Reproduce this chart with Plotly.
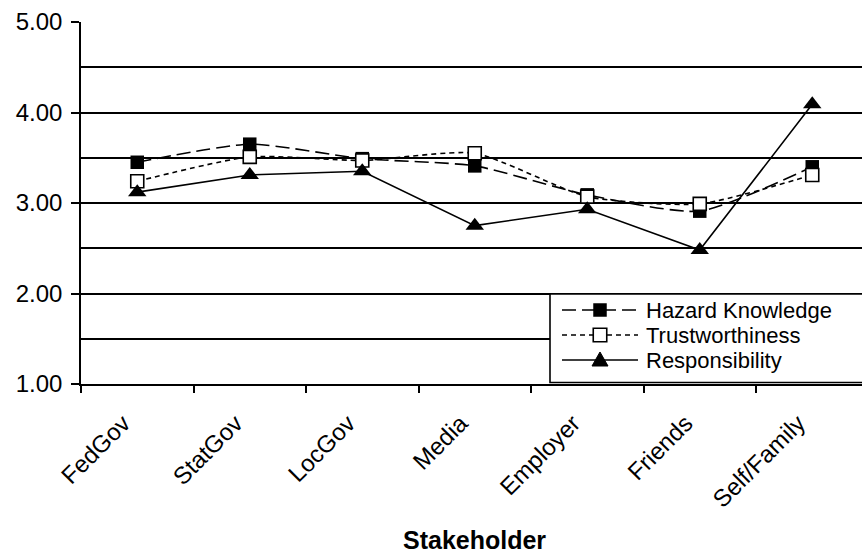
import plotly.graph_objects as go

# Stakeholder ratings (mean scores, 1-5 scale)
stakeholders = ["FedGov", "StatGov", "LocGov", "Media", "Employer", "Friends", "Self/Family"]
hazard_knowledge = [3.45, 3.65, 3.49, 3.41, 3.09, 2.91, 3.40]
trustworthiness = [3.24, 3.51, 3.47, 3.55, 3.07, 2.99, 3.31]
responsibility = [3.12, 3.31, 3.35, 2.75, 2.93, 2.48, 4.09]

y_tick_values = [1, 2, 3, 4, 5]
y_tick_labels = ["1.00", "2.00", "3.00", "4.00", "5.00"]

series_names = ["Hazard Knowledge", "Trustworthiness", "Responsibility"]

W, H = 862, 555
L, R, T, B = 81, 0, 22, 171
PW, PH = W - L - R, H - T - B
FONT = "Liberation Sans, Arial, sans-serif"
FS = 24


def px(x):
    return (x - L) / PW


def py(y):
    return (H - B - y) / PH


fig = go.Figure()

fig.add_trace(go.Scatter(
    x=stakeholders, y=hazard_knowledge, name=series_names[0], mode="lines+markers",
    line=dict(color="black", width=1.6, dash="14px,6px", shape="spline", smoothing=0.6),
    marker=dict(symbol="square", size=13.5, color="black"),
))
fig.add_trace(go.Scatter(
    x=stakeholders, y=trustworthiness, name=series_names[1], mode="lines+markers",
    line=dict(color="black", width=1.6, dash="5px,4px", shape="spline", smoothing=0.6),
    marker=dict(symbol="square", size=13, color="white", line=dict(color="black", width=1.6)),
))
fig.add_trace(go.Scatter(
    x=stakeholders, y=responsibility, name=series_names[2], mode="lines+markers",
    line=dict(color="black", width=1.6),
    marker=dict(symbol="triangle-up", size=16, color="black"),
))

# Legend box drawn as shapes + annotations
shapes = [dict(type="rect", xref="paper", yref="paper",
               x0=px(550), x1=px(875), y0=py(382.5), y1=py(294),
               fillcolor="white", line=dict(color="black", width=1.6), layer="above")]
annotations = []
row_y = [310, 335, 360]
legend_dashes = ["14px,6px", "5px,4px", "solid"]
for i, (name, ry) in enumerate(zip(series_names, row_y)):
    shapes.append(dict(type="line", xref="paper", yref="paper",
                       x0=px(562), x1=px(638), y0=py(ry), y1=py(ry),
                       line=dict(color="black", width=1.6, dash=legend_dashes[i]), layer="above"))
    cx = 600
    if i < 2:
        h = 6.75
        shapes.append(dict(type="rect", xref="paper", yref="paper",
                           x0=px(cx - h), x1=px(cx + h), y0=py(ry + h), y1=py(ry - h),
                           fillcolor="black" if i == 0 else "white",
                           line=dict(color="black", width=1.6 if i == 1 else 0), layer="above"))
    else:
        path = "M{:.5f},{:.5f} L{:.5f},{:.5f} L{:.5f},{:.5f} Z".format(
            px(cx - 8), py(ry + 6), px(cx + 8), py(ry + 6), px(cx), py(ry - 8))
        shapes.append(dict(type="path", xref="paper", yref="paper", path=path,
                           fillcolor="black", line=dict(color="black", width=1), layer="above"))
    annotations.append(dict(xref="paper", yref="paper", x=px(644), y=py(ry),
                            xanchor="left", yanchor="middle", text=name, showarrow=False,
                            font=dict(family=FONT, size=22, color="black")))

annotations.append(dict(xref="paper", yref="paper", x=px(474.5), y=py(540),
                        xanchor="center", yanchor="middle", text="<b>Stakeholder</b>",
                        showarrow=False, font=dict(family=FONT, size=25, color="black")))

fig.update_layout(
    width=W, height=H,
    margin=dict(l=L, r=R, t=T, b=B),
    paper_bgcolor="white", plot_bgcolor="white",
    font=dict(family=FONT, size=FS, color="black"),
    showlegend=False,
    shapes=shapes,
    annotations=annotations,
    xaxis=dict(
        type="category", categoryorder="array", categoryarray=stakeholders,
        range=[-0.5, -0.5 + PW / 112.5],
        tickson="boundaries", ticks="outside", ticklen=7, tickwidth=1.6, tickcolor="black",
        showline=True, linecolor="black", linewidth=1.6,
        showgrid=False, zeroline=False, tickangle=-45,
        ticklabelshift=-14, ticklabelstandoff=14,
        tickfont=dict(family=FONT, size=FS, color="black"),
    ),
    yaxis=dict(
        range=[1, 5], tickvals=y_tick_values, ticktext=y_tick_labels,
        ticks="outside", ticklen=8, tickwidth=1.6, tickcolor="black",
        showline=True, linecolor="black", linewidth=1.6,
        showgrid=True, gridcolor="black", gridwidth=1.5, zeroline=False,
        minor=dict(dtick=0.5, showgrid=True, gridcolor="black", gridwidth=1.5, ticks=""),
        ticklabelstandoff=4,
        tickfont=dict(family=FONT, size=FS, color="black"),
    ),
)

fig.write_html("out.html")
